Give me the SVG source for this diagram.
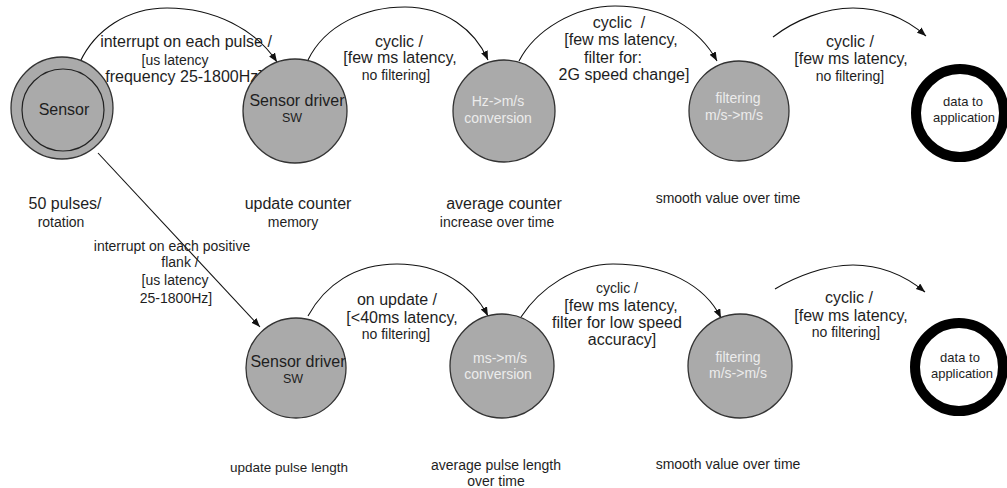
<svg xmlns="http://www.w3.org/2000/svg" width="1007" height="488" viewBox="0 0 1007 488">
  <style>
    text { font-family: "Liberation Sans", Arial, sans-serif; fill: #1e1e1e; text-anchor: middle; }
    .t16 { font-size: 16px; }
    .t14 { font-size: 14px; }
    .t13 { font-size: 13.5px; }
    .app { font-size: 13px; }
    .sw { font-size: 12.5px; }
    .light { fill: #ececec; font-size: 14px; }
    .state { fill: #aaaaaa; stroke: #333333; stroke-width: 1.3; }
    .final { fill: #ffffff; stroke: #000000; stroke-width: 10; }
    .edge { fill: none; stroke: #111111; stroke-width: 1.1; marker-end: url(#arrow); }
  </style>
  <defs>
    <marker id="arrow" markerUnits="userSpaceOnUse" markerWidth="10" markerHeight="8" refX="9" refY="3.5" orient="auto">
      <path d="M0,0 L9,3.5 L0,7 z" fill="#111111"/>
    </marker>
  </defs>

  <rect width="1007" height="488" fill="#ffffff"/>

  <!-- transitions -->
  <g id="connectors">
    <path class="edge" d="M80,62 C95,30 127,8 167,8 C215,8 256,30 277,62"/>
    <path class="edge" d="M308,60 C325,25 365,7 405,7 C445,7 475,30 488,60"/>
    <path class="edge" d="M519,61 C535,30 575,6 615,6 C665,6 700,30 717,61"/>
    <path class="edge" d="M773,37 C795,20 825,8 853,8 C885,8 910,22 926,36"/>
    <path class="edge" d="M98,153 L260,327"/>
    <path class="edge" d="M308,316 C325,285 355,264 397,264 C440,264 472,285 488,316"/>
    <path class="edge" d="M521,317 C540,288 575,264 613,264 C665,264 705,285 721,318"/>
    <path class="edge" d="M775,289 C795,277 825,265 853,265 C885,265 908,278 925,292"/>
  </g>

  <!-- transition labels, upper chain -->
  <g id="label-pulse">
    <text class="t16" x="186" y="47">interrupt on each pulse /</text>
    <text class="t14" x="175" y="65">[us latency</text>
    <text class="t16" x="184" y="82">frequency 25-1800Hz]</text>
  </g>
  <g id="label-cyclic-1">
    <text class="t16" x="399" y="47">cyclic /</text>
    <text class="t16" x="400" y="63">[few ms latency,</text>
    <text class="t14" x="396" y="80">no filtering]</text>
  </g>
  <g id="label-cyclic-2">
    <text class="t16" x="619" y="28" xml:space="preserve">cyclic  /</text>
    <text class="t16" x="621" y="45">[few ms latency,</text>
    <text class="t16" x="613" y="63">filter for:</text>
    <text class="t16" x="624" y="80">2G speed change]</text>
  </g>
  <g id="label-cyclic-3">
    <text class="t16" x="850" y="47">cyclic /</text>
    <text class="t16" x="851" y="64">[few ms latency,</text>
    <text class="t14" x="850" y="81">no filtering]</text>
  </g>

  <!-- transition labels, lower chain -->
  <g id="label-flank">
    <text class="t14" x="172" y="251">interrupt on each positive</text>
    <text class="t14" x="180" y="267">flank /</text>
    <text class="t14" x="175" y="285">[us latency</text>
    <text class="t14" x="176" y="303">25-1800Hz]</text>
  </g>
  <g id="label-update">
    <text class="t16" x="397" y="305">on update /</text>
    <text class="t16" x="402" y="323">[&lt;40ms latency,</text>
    <text class="t14" x="396" y="339">no filtering]</text>
  </g>
  <g id="label-cyclic-4">
    <text class="t14" x="617" y="293">cyclic /</text>
    <text class="t16" x="621" y="311">[few ms latency,</text>
    <text class="t16" x="617" y="328">filter for low speed</text>
    <text class="t16" x="622" y="345">accuracy]</text>
  </g>
  <g id="label-cyclic-5">
    <text class="t16" x="849" y="303">cyclic /</text>
    <text class="t16" x="851" y="321">[few ms latency,</text>
    <text class="t14" x="846" y="337">no filtering]</text>
  </g>

  <!-- upper chain states -->
  <g id="sensor">
    <circle class="state" cx="62" cy="108" r="51"/>
    <circle fill="none" stroke="#222222" stroke-width="1.2" cx="63" cy="110" r="41"/>
    <text class="t16" x="64" y="115">Sensor</text>
  </g>
  <g id="driver-top">
    <circle class="state" cx="295" cy="111" r="52"/>
    <text class="t16" x="297" y="106">Sensor driver</text>
    <text class="sw" x="292" y="122">SW</text>
  </g>
  <g id="hz-conversion">
    <circle class="state" cx="504" cy="111" r="51"/>
    <text class="light" x="498" y="106">Hz-&gt;m/s</text>
    <text class="light" x="498" y="123">conversion</text>
  </g>
  <g id="filter-top">
    <circle class="state" cx="739" cy="111" r="50"/>
    <text class="light" x="738" y="103">filtering</text>
    <text class="light" x="734" y="120">m/s-&gt;m/s</text>
  </g>
  <g id="app-top">
    <circle class="final" cx="960" cy="113" r="44"/>
    <text class="app" x="963" y="106">data to</text>
    <text class="app" x="964" y="122">application</text>
  </g>

  <!-- lower chain states -->
  <g id="driver-bottom">
    <circle class="state" cx="296" cy="368" r="50"/>
    <text class="t16" x="298" y="367">Sensor driver</text>
    <text class="sw" x="293" y="383">SW</text>
  </g>
  <g id="ms-conversion">
    <circle class="state" cx="502" cy="366" r="52"/>
    <text class="light" x="500" y="363">ms-&gt;m/s</text>
    <text class="light" x="498" y="379">conversion</text>
  </g>
  <g id="filter-bottom">
    <circle class="state" cx="740" cy="366" r="52"/>
    <text class="light" x="738" y="362">filtering</text>
    <text class="light" x="738" y="378">m/s-&gt;m/s</text>
  </g>
  <g id="app-bottom">
    <circle class="final" cx="959" cy="367" r="44"/>
    <text class="app" x="960" y="362">data to</text>
    <text class="app" x="962" y="378">application</text>
  </g>

  <!-- per-stage notes -->
  <g id="notes">
    <text class="t16" x="65" y="209">50 pulses/</text>
    <text class="t14" x="61" y="227">rotation</text>
    <text class="t16" x="298" y="209">update counter</text>
    <text class="t14" x="293" y="227">memory</text>
    <text class="t16" x="504" y="209">average counter</text>
    <text class="t14" x="497" y="227">increase over time</text>
    <text class="t14" x="728" y="203">smooth value over time</text>
    <text class="t13" x="289" y="472">update pulse length</text>
    <text class="t14" x="496" y="470">average pulse length</text>
    <text class="t14" x="496" y="486">over time</text>
    <text class="t14" x="728" y="469">smooth value over time</text>
  </g>
</svg>
